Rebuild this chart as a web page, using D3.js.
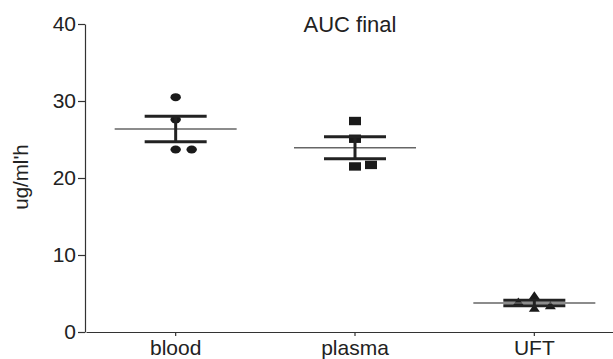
<!DOCTYPE html>
<html>
<head>
<meta charset="utf-8">
<title>AUC final</title>
<script src="https://cdn.jsdelivr.net/npm/d3@7"></script>
<style>
  body { margin: 0; background: #fff; }
  text { font-family: "Liberation Sans", Arial, sans-serif; fill: #222; }
</style>
</head>
<body>
<script>
// values
var groups = ["blood", "plasma", "UFT"];
var bloodValues = [30.5, 27.6, 23.7, 23.7];
var plasmaValues = [27.4, 25.1, 21.5, 21.7];
var uftValues = [4.7, 3.9, 3.1, 3.4];
var yTicks = [0, 10, 20, 30, 40];

var series = [bloodValues, plasmaValues, uftValues];
var shapes = ["circle", "square", "triangle"];

var width = 613, height = 359;

var x = d3.scaleBand().domain(groups).range([86, 624]);
var y = d3.scaleLinear().domain([0, 40]).range([332, 24]);

var svg = d3.select("body").append("svg")
    .attr("width", width)
    .attr("height", height);

// axes
var yAxis = svg.append("g")
    .attr("transform", "translate(85,0)")
    .call(d3.axisLeft(y).tickValues(yTicks).tickSize(7).tickPadding(2).tickSizeOuter(0));
var xAxis = svg.append("g")
    .attr("transform", "translate(0,332)")
    .call(d3.axisBottom(x).tickSize(4).tickPadding(6).tickSizeOuter(0));

[yAxis, xAxis].forEach(function (a) {
  a.selectAll("path, line").attr("stroke", "#333").attr("stroke-width", 1.2);
  a.selectAll("text").attr("font-size", 21).attr("fill", "#222")
    .style("font-family", "'Liberation Sans', Arial, sans-serif");
});
xAxis.selectAll("text").attr("dy", "0.71em").attr("y", 8);

// simple dodge: put points side by side when they would overlap
function dodge(values, cx) {
  var step = 16, minDy = 9;
  var placed = [];
  var order = values.map(function (v, i) { return i; })
    .sort(function (a, b) { return values[a] - values[b]; });
  var out = [];
  order.forEach(function (i) {
    var py = y(values[i]);
    var tries = [0, 1, -1, 2, -2];
    for (var t = 0; t < tries.length; t++) {
      var k = tries[t];
      var hit = placed.some(function (p) { return p.k === k && Math.abs(p.py - py) < minDy; });
      if (!hit) { placed.push({k: k, py: py}); out[i] = {x: cx + k * step, y: py}; break; }
    }
  });
  return out;
}

series.forEach(function (vals, gi) {
  var cx = x(groups[gi]) + x.bandwidth() / 2;
  var pts = dodge(vals, cx);
  var g = svg.append("g");

  pts.forEach(function (p) {
    if (shapes[gi] === "circle") {
      g.append("ellipse").attr("cx", p.x).attr("cy", p.y).attr("rx", 5.2).attr("ry", 4)
        .attr("fill", "#1a1a1a");
    } else if (shapes[gi] === "square") {
      g.append("rect").attr("x", p.x - 6).attr("y", p.y - 4.2).attr("width", 12).attr("height", 8.4)
        .attr("fill", "#1a1a1a");
    } else {
      g.append("path")
        .attr("d", "M" + p.x + "," + (p.y - 4.5) + "L" + (p.x + 5.5) + "," + (p.y + 3.5) + "L" + (p.x - 5.5) + "," + (p.y + 3.5) + "Z")
        .attr("fill", "#1a1a1a");
    }
  });

  var mean = d3.mean(vals);
  var sem = d3.deviation(vals) / Math.sqrt(vals.length);

  // mean line
  g.append("line")
    .attr("x1", cx - 61).attr("x2", cx + 61)
    .attr("y1", y(mean)).attr("y2", y(mean))
    .attr("stroke", "#666").attr("stroke-width", 1.5);

  // SEM bar
  g.append("line")
    .attr("x1", cx).attr("x2", cx)
    .attr("y1", y(mean + sem)).attr("y2", y(mean - sem))
    .attr("stroke", "#222").attr("stroke-width", 3);
  [mean + sem, mean - sem].forEach(function (v) {
    g.append("line")
      .attr("x1", cx - 31).attr("x2", cx + 31)
      .attr("y1", y(v)).attr("y2", y(v))
      .attr("stroke", "#222").attr("stroke-width", 3);
  });
});

// title and axis label
svg.append("text")
  .attr("x", 350).attr("y", 32)
  .attr("text-anchor", "middle")
  .attr("font-size", 22)
  .text("AUC final");

svg.append("text")
  .attr("transform", "translate(28,177) rotate(-90)")
  .attr("text-anchor", "middle")
  .attr("font-size", 20.5)
  .text("ug/ml'h");
</script>
</body>
</html>
